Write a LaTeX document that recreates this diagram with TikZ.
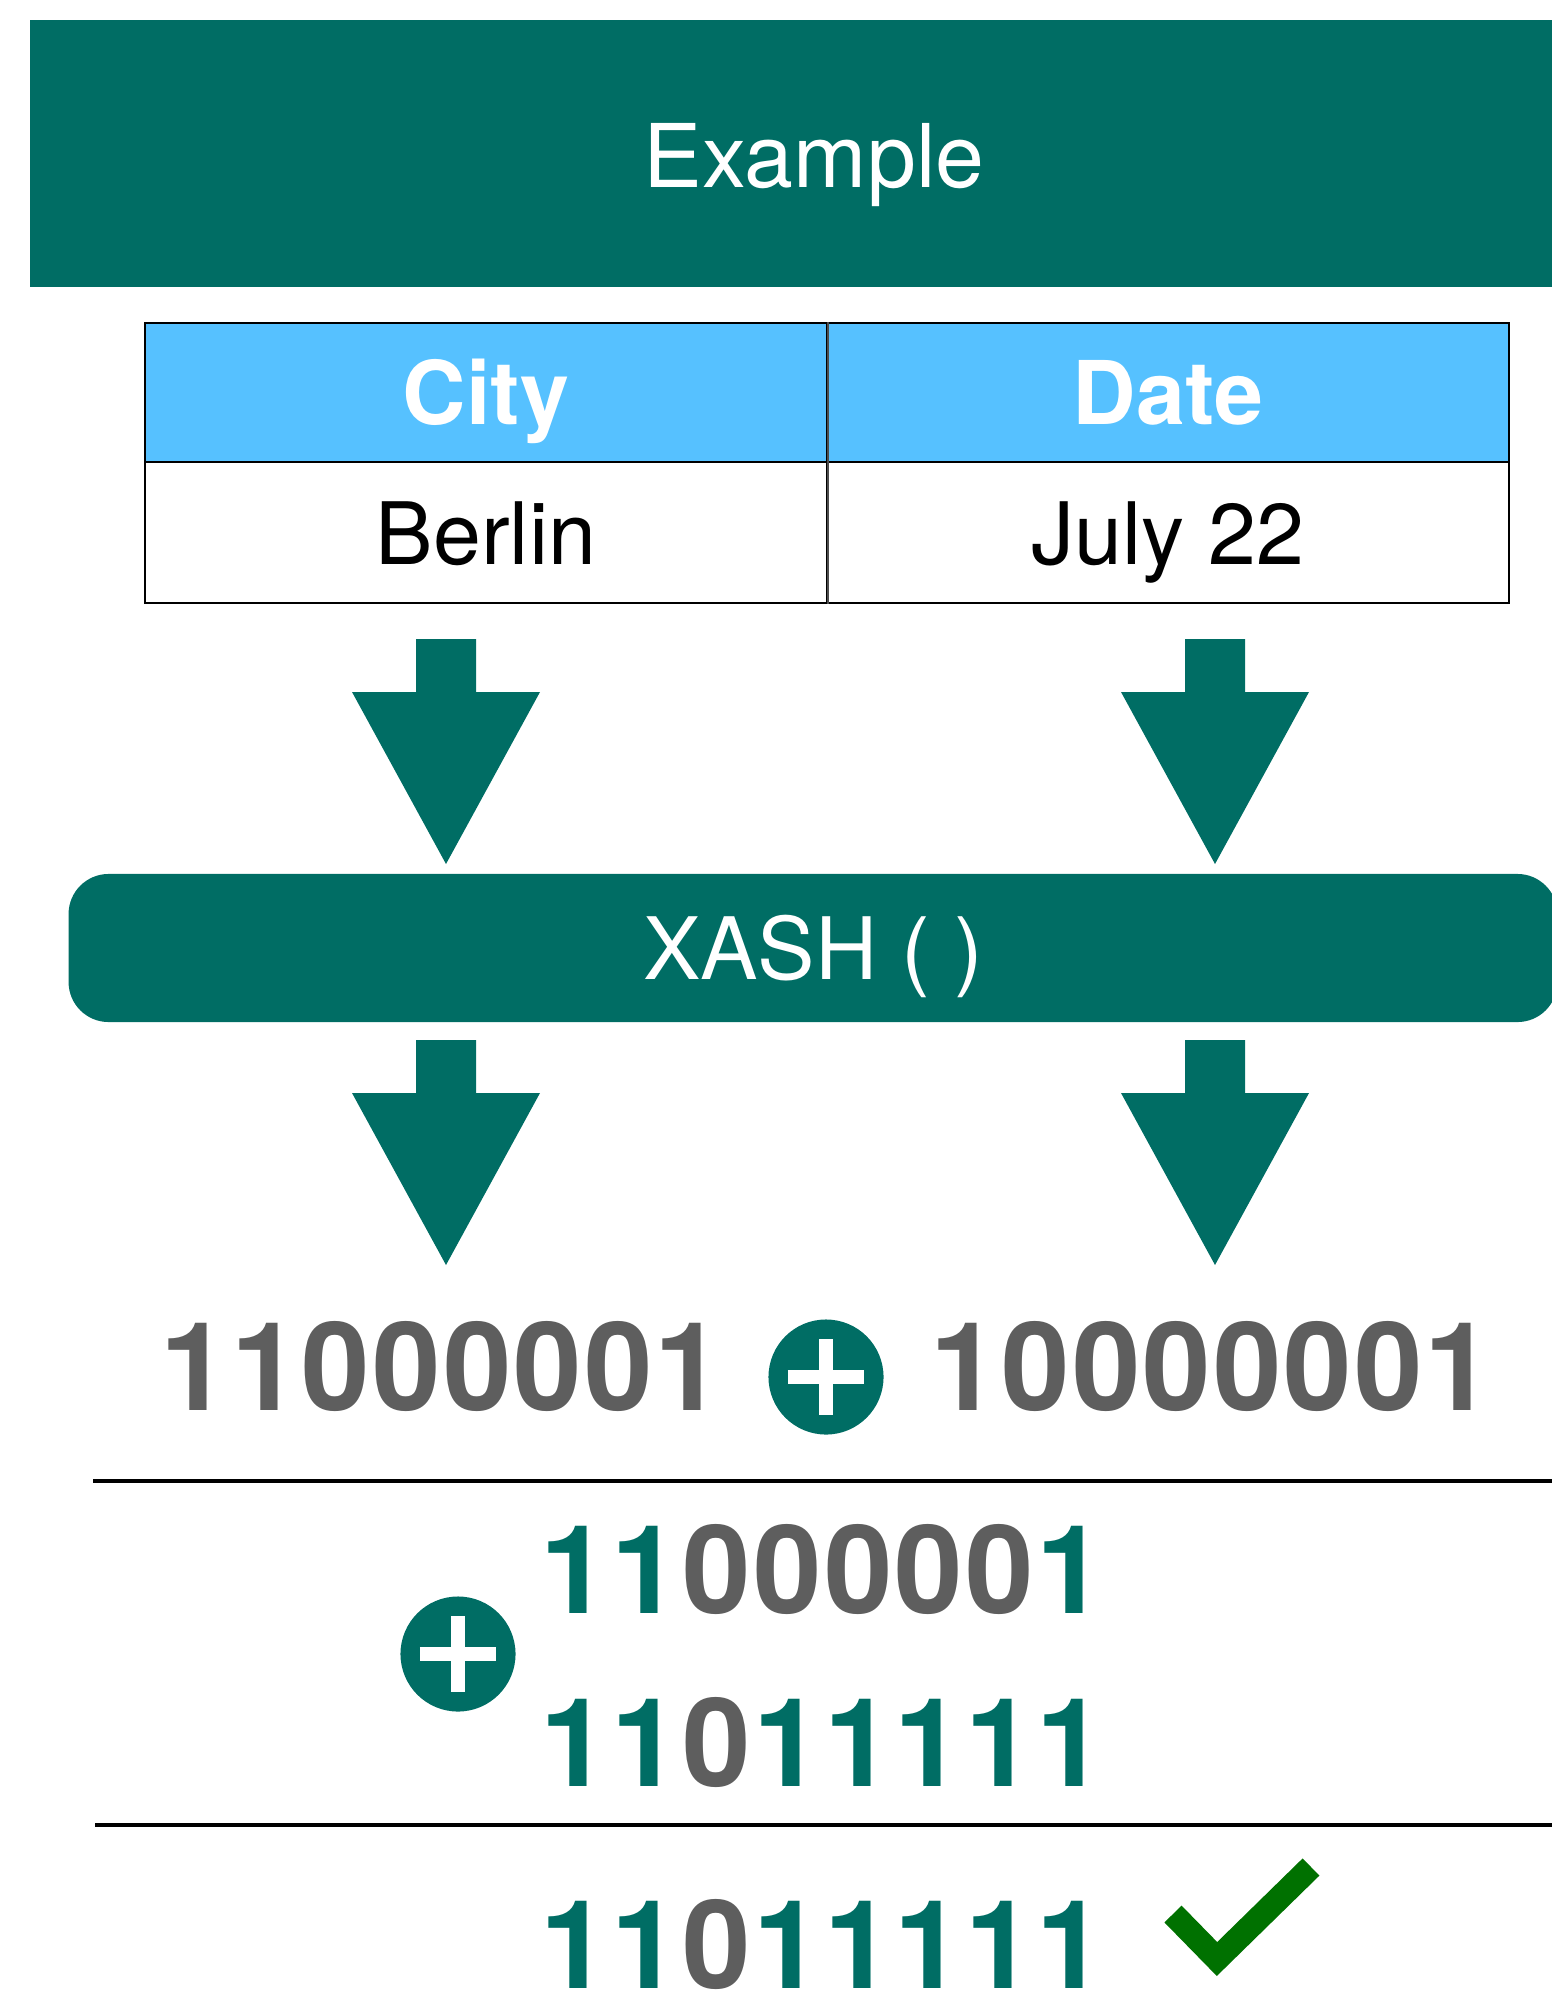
\documentclass[tikz,border=0pt]{standalone}
\usepackage{fontspec}
\setmainfont{TeX Gyre Heros}
\newfontfamily\bitfont[LetterSpace=1.7]{TeX Gyre Heros}
\usetikzlibrary{positioning}
\definecolor{xashteal}{HTML}{006D64}
\definecolor{headblue}{HTML}{56C1FF}
\definecolor{bitgrey}{HTML}{5E5E5E}
\definecolor{okgreen}{HTML}{007100}
\newcommand{\onebit}{\textcolor{xashteal}{1}\kern0.025cm}
\newcommand{\zerobit}{\textcolor{bitgrey}{0}\kern0.025cm}
\tikzset{downarrow/.pic={\fill[xashteal] (-30,0) -- (30,0) -- (30,53) -- (94,53) -- (0,225) -- (-94,53) -- (-30,53) -- cycle;}}

\begin{document}
\begin{tikzpicture}[x=0.01cm,y=-0.01cm,
  banner/.style={fill=xashteal,text=white,minimum width=15.68cm,minimum height=2.67cm,inner sep=0pt,font=\fontsize{25}{30}\selectfont,text height=0.67cm,text depth=0pt},
  headcell/.style={draw=black,line width=0.6pt,fill=headblue,text=white,minimum width=6.82cm,minimum height=1.39cm,inner sep=0pt,font=\fontsize{25}{30}\selectfont\bfseries,text height=0.64cm,text depth=0pt},
  datacell/.style={draw=black,line width=0.6pt,fill=white,text=black,minimum width=6.82cm,minimum height=1.41cm,inner sep=0pt,font=\fontsize{24.5}{30}\selectfont,text height=0.64cm,text depth=0pt},
  hashbox/.style={fill=xashteal,text=white,rounded corners=0.4cm,minimum width=14.88cm,minimum height=1.48cm,inner sep=0pt,font=\fontsize{24.5}{30}\selectfont,text height=0.62cm,text depth=0pt},
  bits/.style={anchor=base,inner sep=0pt,font=\bitfont\fontsize{35}{40}\selectfont\bfseries},
  plusdisc/.style={circle,fill=xashteal,minimum size=1.15cm,inner sep=0pt},
  plusbar/.style={draw=white,line width=0.14cm},
  rule/.style={draw=black,line width=1pt}]

\useasboundingbox (0,0) rectangle (1552,1991);
\clip (0,0) rectangle (1552,1991);

\node[banner] (title) at (814,153.5) {Example};

% table
\node[headcell] (city) at (486,392.5) {City};
\node[headcell] (date) at (1168,392.5) {Date};
\node[datacell] (berlin) at (486,532.5) {Berlin};
\node[datacell] (july) at (1168,532.5) {July 22};
\draw[black!70,line width=0.6pt] (city.north east) -- (berlin.south east);

\pic at (446,639) {downarrow};
\pic at (1215,639) {downarrow};

\node[hashbox] (xash) at (813,948) {XASH ( )};

\pic at (446,1040) {downarrow};
\pic at (1215,1040) {downarrow};

% first line of bits
\node[bits,text=bitgrey] (lhs) at (442,1410) {11000001};
\node[plusdisc] (xor1) at (826,1377) {};
\draw[plusbar] ([yshift=0.375cm]xor1.center) -- ([yshift=-0.375cm]xor1.center);
\draw[plusbar] ([xshift=-0.38cm]xor1.center) -- ([xshift=0.38cm]xor1.center);
\node[bits,text=bitgrey] (rhs) at (1212,1410) {10000001};

\draw[rule] (93,1481) -- (1552,1481);

% second block
\node[plusdisc] (xor2) at (458,1654) {};
\draw[plusbar] ([yshift=0.375cm]xor2.center) -- ([yshift=-0.375cm]xor2.center);
\draw[plusbar] ([xshift=-0.38cm]xor2.center) -- ([xshift=0.38cm]xor2.center);
\node[bits] (opa) at (824,1613) {\onebit\onebit\zerobit\zerobit\zerobit\zerobit\zerobit\onebit};
\node[bits] (opb) at (824,1786) {\onebit\onebit\zerobit\onebit\onebit\onebit\onebit\onebit};

\draw[rule] (95,1825) -- (1552,1825);

\node[bits] (res) at (824,1988) {\onebit\onebit\zerobit\onebit\onebit\onebit\onebit\onebit};
\draw[okgreen,line width=0.24cm,line join=miter] (1173,1914) -- (1217,1959) -- (1311,1867);
\end{tikzpicture}
\end{document}
